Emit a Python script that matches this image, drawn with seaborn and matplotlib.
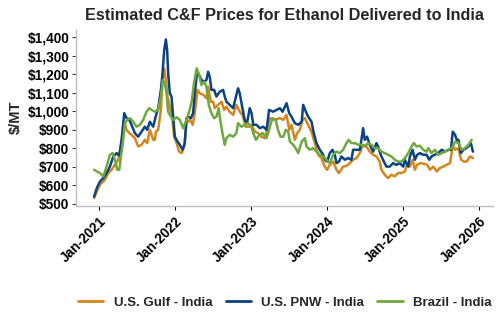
import matplotlib
matplotlib.use("Agg")
import matplotlib.pyplot as plt
import matplotlib.ticker as mticker
import pandas as pd
import seaborn as sns

# U.S. Gulf - India
gulf_dates = [
    "2020-12-07", "2020-12-20", "2021-01-04", "2021-01-28", "2021-02-13", "2021-03-01",
    "2021-03-17", "2021-04-02", "2021-04-13", "2021-04-26", "2021-05-04", "2021-05-12",
    "2021-05-25", "2021-06-05", "2021-06-21", "2021-07-07", "2021-07-23", "2021-08-08",
    "2021-08-19", "2021-09-01", "2021-09-17", "2021-09-25", "2021-09-30", "2021-10-11",
    "2021-10-24", "2021-11-01", "2021-11-09", "2021-11-17", "2021-11-25", "2021-12-06",
    "2021-12-17", "2021-12-27", "2022-01-08", "2022-01-19", "2022-02-01", "2022-02-13",
    "2022-02-24", "2022-03-13", "2022-03-26", "2022-04-05", "2022-04-18", "2022-04-29",
    "2022-05-16", "2022-05-31", "2022-06-08", "2022-06-21", "2022-07-02", "2022-07-10",
    "2022-07-26", "2022-08-11", "2022-08-24", "2022-09-04", "2022-09-20", "2022-10-06",
    "2022-10-22", "2022-11-07", "2022-11-20", "2022-12-06", "2022-12-22", "2023-01-02",
    "2023-01-19", "2023-02-04", "2023-02-20", "2023-03-07", "2023-03-18", "2023-03-31",
    "2023-04-16", "2023-05-03", "2023-05-19", "2023-06-04", "2023-06-20", "2023-07-03",
    "2023-07-14", "2023-07-30", "2023-08-10", "2023-08-23", "2023-09-05", "2023-09-16",
    "2023-10-02", "2023-10-18", "2023-11-03", "2023-11-19", "2023-12-05", "2023-12-21",
    "2024-01-01", "2024-01-14", "2024-01-30", "2024-02-15", "2024-02-27", "2024-03-18",
    "2024-04-03", "2024-04-19", "2024-05-05", "2024-05-21", "2024-06-06", "2024-06-22",
    "2024-07-08", "2024-07-24", "2024-08-09", "2024-08-25", "2024-09-10", "2024-09-18",
    "2024-10-04", "2024-10-20", "2024-11-05", "2024-11-21", "2024-12-07", "2024-12-23",
    "2025-01-09", "2025-01-20", "2025-02-02", "2025-02-15", "2025-02-26", "2025-03-09",
    "2025-03-25", "2025-04-10", "2025-04-26", "2025-05-09", "2025-05-25", "2025-06-11",
    "2025-06-26", "2025-07-12", "2025-07-29", "2025-08-14", "2025-08-27", "2025-09-07",
    "2025-09-23", "2025-10-06", "2025-10-20", "2025-11-02", "2025-11-18", "2025-12-02",
]
gulf_prices = [
    531, 566, 603, 630, 666, 684,
    711, 738, 801, 882, 936, 900,
    882, 873, 855, 810, 819, 846,
    828, 900, 846, 846, 890, 900,
    1008, 1170, 1232, 1170, 1080, 1025,
    971, 863, 828, 782, 774, 810,
    936, 954, 927, 990, 1116, 1098,
    1089, 1071, 1134, 1052, 1052, 1017,
    1035, 1052, 1008, 1025, 998, 981,
    1035, 998, 981, 917, 917, 927,
    890, 882, 863, 855, 900, 963,
    954, 958, 963, 954, 981, 900,
    927, 846, 882, 900, 954, 963,
    927, 890, 828, 765, 747, 701,
    684, 711, 728, 684, 666, 701,
    705, 720, 738, 747, 774, 819,
    810, 782, 765, 756, 728, 684,
    657, 639, 657, 648, 666, 666,
    675, 720, 701, 738, 684, 711,
    720, 716, 711, 684, 701, 675,
    693, 701, 711, 720, 819, 792,
    800, 738, 728, 728, 756, 747,
]

# U.S. PNW - India
pnw_dates = [
    "2020-12-07", "2020-12-20", "2021-01-04", "2021-01-20", "2021-02-05", "2021-02-21",
    "2021-03-09", "2021-03-25", "2021-04-07", "2021-04-18", "2021-05-01", "2021-05-12",
    "2021-05-25", "2021-06-05", "2021-06-21", "2021-07-07", "2021-07-23", "2021-08-08",
    "2021-08-19", "2021-09-01", "2021-09-17", "2021-09-29", "2021-10-11", "2021-10-24",
    "2021-11-01", "2021-11-09", "2021-11-17", "2021-11-23", "2021-11-28", "2021-12-06",
    "2021-12-14", "2021-12-22", "2021-12-30", "2022-01-12", "2022-01-23", "2022-02-05",
    "2022-02-16", "2022-02-24", "2022-03-04", "2022-03-17", "2022-03-28", "2022-04-05",
    "2022-04-16", "2022-04-26", "2022-05-07", "2022-05-20", "2022-05-31", "2022-06-08",
    "2022-06-16", "2022-06-24", "2022-07-07", "2022-07-18", "2022-08-03", "2022-08-19",
    "2022-08-27", "2022-09-04", "2022-09-20", "2022-10-06", "2022-10-30", "2022-11-07",
    "2022-11-20", "2022-12-01", "2022-12-12", "2022-12-25", "2023-01-03", "2023-01-11",
    "2023-01-27", "2023-02-12", "2023-02-28", "2023-03-16", "2023-03-28", "2023-04-16",
    "2023-05-03", "2023-05-19", "2023-06-01", "2023-06-20", "2023-07-03", "2023-07-14",
    "2023-07-30", "2023-08-15", "2023-09-01", "2023-09-08", "2023-09-21", "2023-10-02",
    "2023-10-18", "2023-10-29", "2023-11-11", "2023-11-27", "2023-12-13", "2023-12-21",
    "2024-01-01", "2024-01-14", "2024-01-27", "2024-02-07", "2024-02-15", "2024-02-27",
    "2024-03-10", "2024-03-26", "2024-04-11", "2024-04-27", "2024-05-05", "2024-05-21",
    "2024-06-06", "2024-06-14", "2024-06-22", "2024-06-30", "2024-07-11", "2024-07-24",
    "2024-08-09", "2024-08-25", "2024-09-02", "2024-09-10", "2024-09-18", "2024-09-26",
    "2024-10-12", "2024-10-28", "2024-11-13", "2024-11-29", "2024-12-15", "2025-01-01",
    "2025-01-09", "2025-01-25", "2025-02-02", "2025-02-15", "2025-02-26", "2025-03-09",
    "2025-03-22", "2025-04-07", "2025-04-23", "2025-05-06", "2025-05-17", "2025-06-02",
    "2025-06-18", "2025-07-05", "2025-07-21", "2025-08-06", "2025-08-18", "2025-08-27",
    "2025-09-07", "2025-09-15", "2025-09-23", "2025-10-05", "2025-10-17", "2025-10-30",
    "2025-11-10", "2025-11-22", "2025-12-02",
]
pnw_prices = [
    539, 585, 620, 639, 666, 701,
    755, 774, 760, 846, 990, 963,
    954, 927, 882, 863, 890, 917,
    900, 944, 917, 971, 1017, 1116,
    1206, 1332, 1389, 1332, 1206, 1098,
    1080, 971, 863, 836, 819, 792,
    828, 963, 971, 963, 990, 1098,
    1214, 1197, 1170, 1160, 1170, 1214,
    1187, 1116, 1116, 1080, 1106, 1116,
    1080, 1052, 1035, 1017, 1125, 1098,
    1017, 954, 936, 1017, 990, 927,
    927, 909, 917, 900, 1008, 998,
    1008, 1017, 998, 1044, 990, 971,
    936, 927, 944, 1035, 998, 971,
    944, 882, 828, 792, 765, 738,
    728, 774, 792, 765, 720, 728,
    756, 738, 747, 738, 792, 792,
    792, 846, 909, 846, 863, 819,
    782, 828, 810, 782, 756, 738,
    701, 701, 720, 710, 720, 701,
    738, 701, 756, 792, 738, 765,
    774, 765, 765, 738, 756, 765,
    774, 792, 782, 792, 792, 890,
    873, 846, 846, 774, 792, 800,
    810, 828, 782,
]

# Brazil - India
brazil_dates = [
    "2020-12-07", "2020-12-20", "2021-01-04", "2021-01-20", "2021-02-05", "2021-02-21",
    "2021-03-06", "2021-03-17", "2021-03-28", "2021-04-07", "2021-04-15", "2021-04-26",
    "2021-05-04", "2021-05-15", "2021-05-28", "2021-06-13", "2021-06-29", "2021-07-15",
    "2021-07-31", "2021-08-16", "2021-08-29", "2021-09-09", "2021-09-25", "2021-10-11",
    "2021-10-24", "2021-11-02", "2021-11-12", "2021-11-20", "2021-11-28", "2021-12-11",
    "2021-12-22", "2022-01-08", "2022-01-23", "2022-02-08", "2022-02-24", "2022-03-09",
    "2022-03-21", "2022-04-01", "2022-04-14", "2022-04-26", "2022-05-07", "2022-05-20",
    "2022-05-31", "2022-06-11", "2022-06-24", "2022-07-07", "2022-07-18", "2022-07-29",
    "2022-08-03", "2022-08-11", "2022-08-16", "2022-08-27", "2022-09-04", "2022-09-20",
    "2022-10-06", "2022-10-22", "2022-10-30", "2022-11-15", "2022-12-01", "2022-12-17",
    "2023-01-02", "2023-01-11", "2023-01-24", "2023-02-09", "2023-02-25", "2023-03-16",
    "2023-03-28", "2023-04-13", "2023-04-29", "2023-05-10", "2023-05-22", "2023-06-04",
    "2023-06-17", "2023-06-28", "2023-07-06", "2023-07-22", "2023-08-07", "2023-08-15",
    "2023-09-01", "2023-09-16", "2023-09-24", "2023-10-10", "2023-10-26", "2023-11-11",
    "2023-11-27", "2023-12-13", "2023-12-29", "2024-01-14", "2024-01-30", "2024-02-15",
    "2024-03-02", "2024-03-18", "2024-04-03", "2024-04-14", "2024-04-27", "2024-05-13",
    "2024-05-29", "2024-06-14", "2024-06-30", "2024-07-16", "2024-08-01", "2024-08-17",
    "2024-09-02", "2024-09-18", "2024-10-04", "2024-10-20", "2024-11-05", "2024-11-21",
    "2024-12-07", "2024-12-23", "2025-01-09", "2025-01-25", "2025-02-10", "2025-02-21",
    "2025-03-06", "2025-03-22", "2025-04-07", "2025-04-23", "2025-05-01", "2025-05-17",
    "2025-06-02", "2025-06-18", "2025-07-05", "2025-07-21", "2025-08-06", "2025-08-22",
    "2025-09-07", "2025-09-23", "2025-10-09", "2025-10-25", "2025-11-10", "2025-11-26",
]
brazil_prices = [
    684, 675, 666, 648, 701, 765,
    774, 738, 684, 684, 756, 846,
    936, 954, 963, 944, 917, 927,
    954, 998, 1017, 1008, 998, 1008,
    1080, 1170, 1152, 1098, 998, 971,
    954, 968, 954, 909, 954, 998,
    1052, 1152, 1233, 1197, 1143, 1160,
    1134, 1035, 990, 963, 971, 1017,
    971, 917, 882, 819, 855, 873,
    863, 882, 936, 917, 927, 936,
    917, 882, 846, 873, 882, 855,
    900, 963, 954, 900, 863, 863,
    900, 890, 836, 819, 792, 774,
    836, 855, 810, 792, 801, 782,
    765, 756, 738, 720, 765, 782,
    774, 792, 828, 846, 828, 828,
    819, 819, 810, 828, 819, 801,
    801, 782, 774, 765, 756, 738,
    728, 728, 747, 774, 810, 828,
    810, 814, 792, 782, 801, 774,
    792, 765, 774, 782, 792, 801,
    836, 828, 792, 801, 819, 846,
]

series_names = ["U.S. Gulf - India", "U.S. PNW - India", "Brazil - India"]
series_colors = ["#D4861E", "#0B4382", "#6FA83E"]
tick_years = [2021, 2022, 2023, 2024, 2025, 2026]

frames = []
for name, dates, prices in zip(series_names,
                               [gulf_dates, pnw_dates, brazil_dates],
                               [gulf_prices, pnw_prices, brazil_prices]):
    frames.append(pd.DataFrame({"Date": pd.to_datetime(dates),
                                "Price": prices, "Route": name}))
df = pd.concat(frames, ignore_index=True)

sns.set_theme(style="white")
plt.rcParams["font.family"] = ["Liberation Sans", "DejaVu Sans"]
plt.rcParams["font.weight"] = "bold"

fig = plt.figure(figsize=(5.0, 3.3), dpi=100)
ax = fig.add_axes([0.152, 0.377, 0.833, 0.532])

sns.lineplot(data=df, x="Date", y="Price", hue="Route", hue_order=series_names,
             palette=dict(zip(series_names, series_colors)), linewidth=1.8,
             ax=ax, legend=False)

ax.set_ylim(490, 1440)
ax.set_xlim(pd.Timestamp("2020-09-11"), pd.Timestamp("2026-03-06"))
ax.set_yticks(range(500, 1401, 100))
ax.yaxis.set_major_formatter(mticker.FuncFormatter(lambda v, p: f"${v:,.0f}"))
ax.set_xticks([pd.Timestamp(f"{y}-01-01") for y in tick_years])
ax.set_xticklabels([f"Jan-{y}" for y in tick_years], rotation=45, ha="right",
                   rotation_mode="anchor")

ax.tick_params(axis="y", labelsize=9.8, length=3, width=0.8, color="#404040",
               pad=2, left=True)
ax.tick_params(axis="x", labelsize=9.8, length=3, width=0.8, color="black",
               pad=3, bottom=True)
for lbl in ax.get_xticklabels() + ax.get_yticklabels():
    lbl.set_fontweight("bold")
    lbl.set_color("black")

for side in ["top", "right"]:
    ax.spines[side].set_visible(False)
for side in ["left", "bottom"]:
    ax.spines[side].set_color("#BFBFBF")
    ax.spines[side].set_linewidth(1.0)

ax.set_xlabel("")
ax.set_ylabel("$/MT", fontsize=10.5, fontweight="bold", labelpad=3)
ax.set_title("Estimated C&F Prices for Ethanol Delivered to India",
             fontsize=11.7, fontweight="bold", pad=7)

handles = [plt.Line2D([], [], color=c, linewidth=2.0) for c in series_colors]
fig.legend(handles, series_names, loc="center", bbox_to_anchor=(0.57, 0.082),
           ncol=3, frameon=False, handlelength=1.9, columnspacing=1.0,
           handletextpad=0.8, prop={"weight": "bold", "size": 9.5})

fig.savefig("out.png", dpi=100)
